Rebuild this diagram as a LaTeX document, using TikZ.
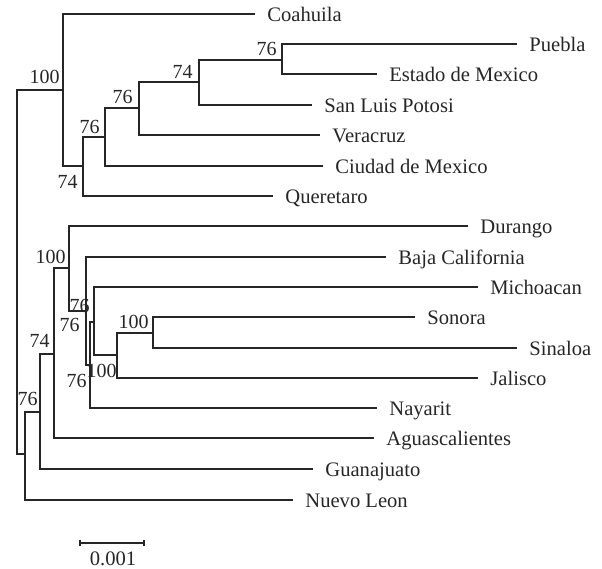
\documentclass[tikz,border=0pt]{standalone}
\usepackage{fontspec}
\setmainfont{Liberation Serif}
\begin{document}
\begin{tikzpicture}[x=0.5pt,y=-0.5pt,
  br/.style={black!85, line width=0.6pt},
  leaf/.style={anchor=base west, inner sep=0, xshift=6pt, yshift=-3.5pt, text=black!85, font=\fontsize{10.3}{12}\selectfont},
  boot/.style={anchor=base east, inner sep=0, text=black!85, font=\fontsize{10}{12}\selectfont},
  barlab/.style={anchor=base, inner sep=0, text=black!85, font=\fontsize{10.3}{12}\selectfont}]
\useasboundingbox (0,0) rectangle (602,569);

% tips of the tree
\foreach \n/\x/\y/\t in {coa/255/14/Coahuila, pue/517/44/Puebla, edo/377/74/Estado de Mexico,
  slp/312/105/San Luis Potosi, ver/320/135/Veracruz, cdmx/323/166/Ciudad de Mexico,
  qro/273/196/Queretaro, dgo/468/226/Durango, bc/386/257/Baja California,
  mich/478/287/Michoacan, son/415/317/Sonora, sin/517/348/Sinaloa, jal/478/378/Jalisco,
  nay/377/408/Nayarit, ags/374/438/Aguascalientes, gto/313/469/Guanajuato, nl/293/500/Nuevo Leon} {
  \coordinate (\n) at (\x,\y);
  \node[leaf] (\n-t) at (\n) {\t};
}

% inner nodes
\coordinate (root) at (17,272);
\coordinate (A) at (63,90);
\coordinate (B) at (83,166);
\coordinate (C) at (105,137);
\coordinate (D) at (139,108);
\coordinate (E) at (199,82);
\coordinate (F) at (282,60);
\coordinate (L) at (25,454);
\coordinate (M) at (40,412);
\coordinate (N) at (54,354);
\coordinate (O) at (69,268);
\coordinate (P) at (86,311);
\coordinate (Q) at (90,365);
\coordinate (R) at (94,322);
\coordinate (S) at (117,355);
\coordinate (T) at (153,333);

\foreach \p/\c in {root/A, root/L, A/coa, A/B, B/C, B/qro, C/D, C/cdmx, D/E, D/ver,
  E/F, E/slp, F/pue, F/edo, L/M, L/nl, M/N, M/gto, N/O, N/ags, O/dgo, O/P, P/bc, P/Q,
  Q/R, Q/nay, R/mich, R/S, S/T, S/jal, T/son, T/sin} {
  \draw[br] (\p) |- (\c);
}

% bootstrap values
\foreach \n/\x/\y/\v in {bA/60/83/100, bF/277/55/76, bE/193/78/74, bD/133/103/76,
  bC/100/133/76, bB/78/188/74, bO/66/263/100, bP/90/312/76, bR/80/331/76,
  bT/149/328/100, bS/117/377/100, bQ/87/387/76, bN/50/347/74, bM/38/405/76} {
  \node[boot] (\n) at (\x,\y) {\v};
}

% scale bar
\coordinate (sb1) at (80,543);
\coordinate (sb2) at (144,543);
\draw[br] (sb1) -- (sb2);
\draw[br] ([yshift=-1.5pt]sb1) -- ([yshift=1.5pt]sb1);
\draw[br] ([yshift=-1.5pt]sb2) -- ([yshift=1.5pt]sb2);
\node[barlab] (sb-t) at (113,565) {0.001};
\end{tikzpicture}
\end{document}
